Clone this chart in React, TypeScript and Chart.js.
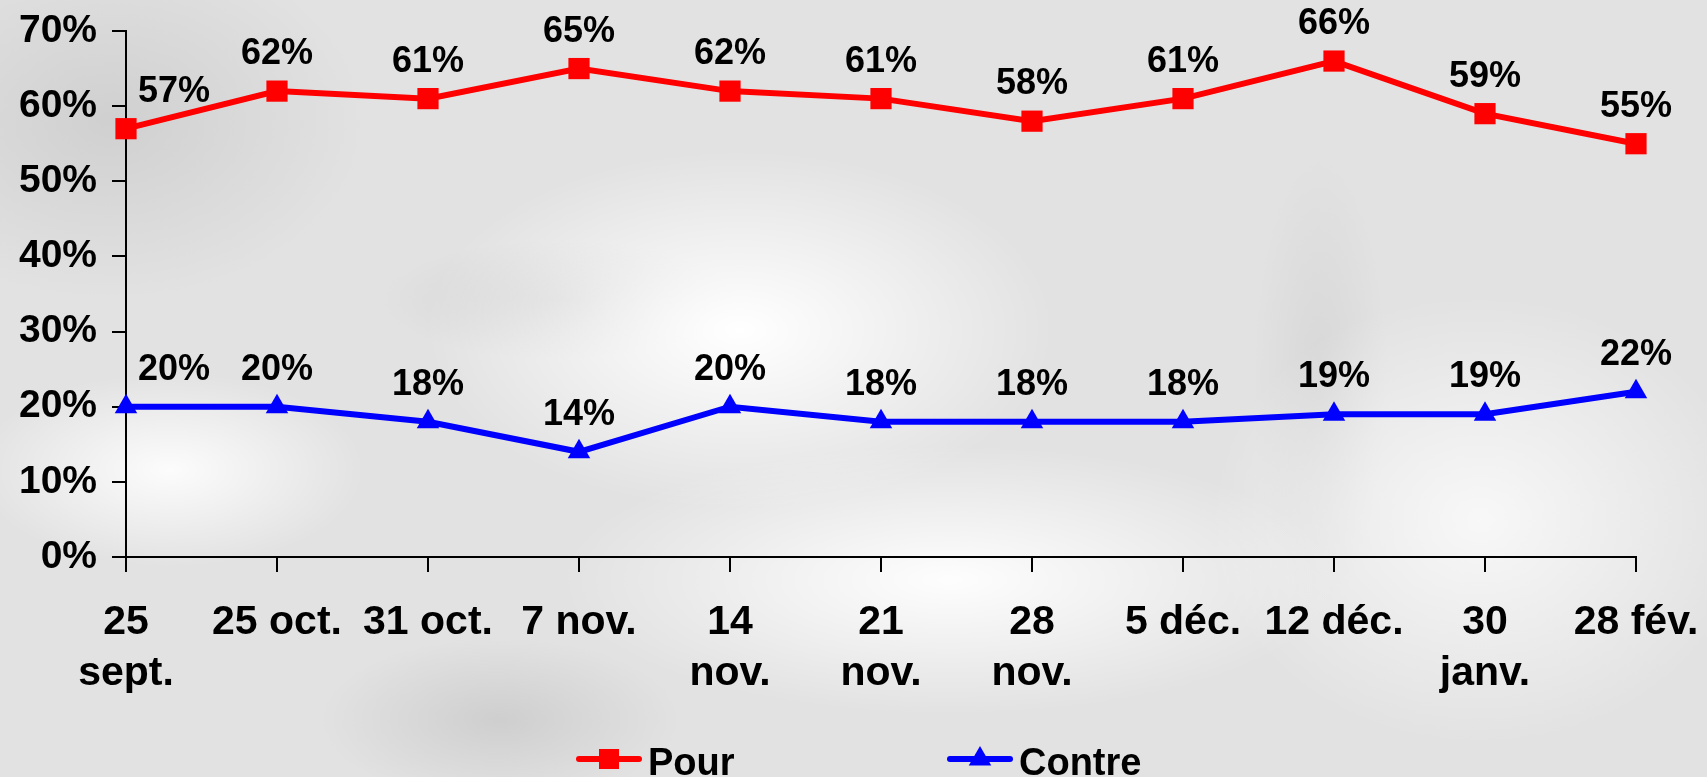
import React, { useEffect, useRef } from "react";
import { Chart, registerables } from "chart.js";

Chart.register(...registerables);

const categories: (string | string[])[] = [
  ["25", "sept."],
  "25 oct.",
  "31 oct.",
  "7 nov.",
  ["14", "nov."],
  ["21", "nov."],
  ["28", "nov."],
  "5 déc.",
  "12 déc.",
  ["30", "janv."],
  "28 fév.",
];
const pourValues = [57, 62, 61, 65, 62, 61, 58, 61, 66, 59, 55];
const contreValues = [20, 20, 18, 14, 20, 18, 18, 18, 19, 19, 22];
const yTickValues = [0, 10, 20, 30, 40, 50, 60, 70];
const seriesNames = ["Pour", "Contre"];
const seriesColors = ["#FF0000", "#0000FF"];
const seriesMarkers = ["rect", "triangle"];

const FONT = '"Liberation Sans", Arial, Helvetica, sans-serif';

const dataLabelPlugin = {
  id: "pctLabels",
  afterDatasetsDraw(chart: any) {
    const ctx = chart.ctx;
    ctx.save();
    ctx.font = `bold 36px ${FONT}`;
    ctx.fillStyle = "#000";
    ctx.textBaseline = "alphabetic";
    ctx.textAlign = "left";
    chart.data.datasets.forEach((ds: any, di: number) => {
      const meta = chart.getDatasetMeta(di);
      meta.data.forEach((pt: any, i: number) => {
        const txt = `${ds.data[i]}%`;
        const w = ctx.measureText(txt).width;
        let x = pt.x - w / 2;
        x = Math.max(x, chart.chartArea.left + 12);
        x = Math.min(x, chart.width - w - 4);
        ctx.fillText(txt, x, pt.y - 27);
      });
    });
    ctx.restore();
  },
};

function drawMarker(ctx: CanvasRenderingContext2D, kind: string, x: number, y: number, color: string) {
  ctx.fillStyle = color;
  if (kind === "rect") {
    ctx.fillRect(x - 10, y - 10, 20, 20);
  } else {
    const r = 13;
    ctx.beginPath();
    ctx.moveTo(x, y - r);
    ctx.lineTo(x + r * 0.866, y + r * 0.5);
    ctx.lineTo(x - r * 0.866, y + r * 0.5);
    ctx.closePath();
    ctx.fill();
  }
}

const legendPlugin = {
  id: "customLegend",
  afterDraw(chart: any) {
    const ctx: CanvasRenderingContext2D = chart.ctx;
    const starts = [579, 950];
    const lineLen = 60;
    const yLine = 759;
    ctx.save();
    chart.data.datasets.forEach((ds: any, i: number) => {
      const x0 = starts[i];
      ctx.strokeStyle = seriesColors[i];
      ctx.lineWidth = 6;
      ctx.lineCap = "round";
      ctx.beginPath();
      ctx.moveTo(x0, yLine);
      ctx.lineTo(x0 + lineLen, yLine);
      ctx.stroke();
      drawMarker(ctx, seriesMarkers[i], x0 + lineLen / 2, yLine, seriesColors[i]);
      ctx.fillStyle = "#000";
      ctx.textBaseline = "alphabetic";
      ctx.textAlign = "left";
      ctx.font = `bold 38px ${FONT}`;
      ctx.fillText(ds.label, x0 + lineLen + 9, 775);
    });
    ctx.restore();
  },
};

export default function App() {
  const canvasRef = useRef<HTMLCanvasElement | null>(null);

  useEffect(() => {
    document.body.style.margin = "0";
    const canvas = canvasRef.current;
    if (!canvas) return;
    const chart = new Chart(canvas, {
      type: "line",
      data: {
        labels: categories,
        datasets: [
          {
            label: seriesNames[0],
            data: pourValues,
            borderColor: seriesColors[0],
            backgroundColor: seriesColors[0],
            borderWidth: 6,
            pointStyle: "rect",
            pointRadius: 15,
            pointBorderWidth: 0,
            tension: 0,
          },
          {
            label: seriesNames[1],
            data: contreValues,
            borderColor: seriesColors[1],
            backgroundColor: seriesColors[1],
            borderWidth: 6,
            pointStyle: "triangle",
            pointRadius: 13,
            pointBorderWidth: 0,
            tension: 0,
          },
        ],
      },
      options: {
        responsive: false,
        animation: false,
        layout: { padding: { left: 0, right: 71, top: 31, bottom: 70 } },
        plugins: {
          legend: { display: false },
          tooltip: { enabled: false },
        },
        scales: {
          x: {
            type: "category",
            offset: false,
            border: { display: true, color: "#000", width: 2 },
            grid: {
              display: true,
              drawOnChartArea: false,
              drawTicks: true,
              tickLength: 15,
              color: "#000",
              lineWidth: 2,
            },
            ticks: {
              color: "#000",
              font: { family: FONT, size: 41, weight: "bold", lineHeight: 1.25 },
              padding: 25,
              maxRotation: 0,
              autoSkip: false,
            },
            afterFit(scale: any) {
              scale.height = 150;
              scale.paddingLeft = 0;
              scale.paddingRight = 0;
            },
          },
          y: {
            min: 0,
            max: 70,
            border: { display: true, color: "#000", width: 2 },
            grid: {
              display: true,
              drawOnChartArea: false,
              drawTicks: true,
              tickLength: 14,
              color: "#000",
              lineWidth: 2,
            },
            afterBuildTicks(scale: any) {
              scale.ticks = yTickValues.map((v) => ({ value: v }));
            },
            ticks: {
              color: "#000",
              font: { family: FONT, size: 39, weight: "bold" },
              padding: 15,
              callback: (v: any) => `${v}%`,
            },
            afterFit(scale: any) {
              scale.width = 126;
              scale.paddingTop = 0;
              scale.paddingBottom = 0;
            },
          },
        },
      },
      plugins: [dataLabelPlugin, legendPlugin],
    });
    return () => chart.destroy();
  }, []);

  const bg: React.CSSProperties = {
    position: "fixed",
    left: 0,
    top: 0,
    width: 1707,
    height: 777,
    backgroundColor: "#e2e2e2",
    backgroundImage: [
      "radial-gradient(ellipse 420px 240px at 740px 330px, rgba(255,255,255,1), rgba(255,255,255,0) 75%)",
      "radial-gradient(ellipse 520px 180px at 950px 580px, rgba(255,255,255,0.95), rgba(255,255,255,0) 75%)",
      "radial-gradient(ellipse 360px 300px at 1480px 520px, rgba(250,250,250,0.9), rgba(255,255,255,0) 75%)",
      "radial-gradient(ellipse 260px 130px at 170px 470px, rgba(255,255,255,0.9), rgba(255,255,255,0) 75%)",
      "radial-gradient(ellipse 240px 80px at 560px 300px, rgba(200,200,200,0.55), rgba(200,200,200,0) 75%)",
      "radial-gradient(ellipse 340px 240px at 110px 120px, rgba(200,200,200,0.7), rgba(200,200,200,0) 75%)",
      "radial-gradient(ellipse 240px 110px at 500px 720px, rgba(200,200,200,0.75), rgba(200,200,200,0) 75%)",
      "radial-gradient(ellipse 90px 300px at 1320px 380px, rgba(205,205,205,0.5), rgba(205,205,205,0) 75%)",
    ].join(","),
  };

  return (
    <div style={bg}>
      <canvas ref={canvasRef} width={1707} height={777} style={{ display: "block" }} />
    </div>
  );
}
